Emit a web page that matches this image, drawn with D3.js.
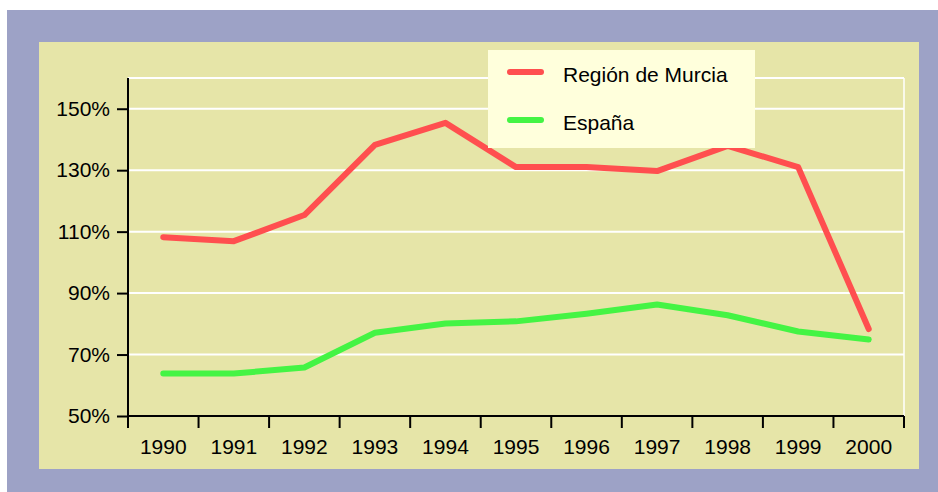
<!DOCTYPE html>
<html>
<head>
<meta charset="utf-8">
<script src="https://cdn.jsdelivr.net/npm/d3@7"></script>
<style>
  body { margin: 0; background: #fff; }
  text { font-family: "Liberation Sans", Arial, sans-serif; fill: #000; }
</style>
</head>
<body>
<svg id="chart" width="938" height="492"></svg>
<script>
// data
const years  = ["1990","1991","1992","1993","1994","1995","1996","1997","1998","1999","2000"];
const murcia = [108.2, 106.9, 115.4, 138.2, 145.4, 131.0, 131.0, 129.7, 137.9, 131.0, 78.3];
const espana = [63.8, 63.8, 65.8, 77.1, 80.1, 80.8, 83.3, 86.3, 82.8, 77.5, 74.9];
const yTicks = [50, 70, 90, 110, 130, 150];
const seriesNames = ["Región de Murcia", "España"];
const seriesColors = ["#ff4f4f", "#44f444"];

const svg = d3.select("#chart");

// frame + panel
svg.append("rect").attr("x", 7).attr("y", 10).attr("width", 931).attr("height", 482).attr("fill", "#9da2c6");
svg.append("rect").attr("x", 39).attr("y", 42).attr("width", 880).attr("height", 427).attr("fill", "#e6e5a8");

const m = { left: 128, right: 904, top: 78, bottom: 416 };

const x = d3.scaleBand().domain(years).range([m.left, m.right]);
const y = d3.scaleLinear().domain([50, 160]).range([m.bottom, m.top]);

// grid
const g = svg.append("g");
g.selectAll("line.grid")
  .data(yTicks.slice(1).concat([160]))
  .enter().append("line")
    .attr("x1", m.left).attr("x2", m.right)
    .attr("y1", d => y(d)).attr("y2", d => y(d))
    .attr("stroke", "#fff").attr("stroke-width", 2);
g.append("line")
  .attr("x1", m.right).attr("x2", m.right)
  .attr("y1", m.top).attr("y2", m.bottom)
  .attr("stroke", "#fff").attr("stroke-width", 1.5);

// lines
const line = d3.line()
  .x((d, i) => x(years[i]) + x.bandwidth() / 2)
  .y(d => y(d));

[murcia, espana].forEach((vals, k) => {
  svg.append("path")
    .datum(vals)
    .attr("d", line)
    .attr("fill", "none")
    .attr("stroke", seriesColors[k])
    .attr("stroke-width", 6)
    .attr("stroke-linecap", "round")
    .attr("stroke-linejoin", "round");
});

// axes
const yAxis = svg.append("g")
  .attr("transform", `translate(${m.left},0)`)
  .call(d3.axisLeft(y).tickValues(yTicks).tickFormat(d => d + "%").tickSize(11).tickPadding(7));
yAxis.select(".domain").attr("d", `M0,${m.top}V${m.bottom}`);

const xAxis = svg.append("g")
  .attr("transform", `translate(0,${m.bottom})`)
  .call(d3.axisBottom(x).tickSize(0).tickPadding(23));
xAxis.select(".domain").attr("d", `M${m.left},0H${m.right}`);

// band boundary ticks
svg.append("g").selectAll("line")
  .data(years.concat(["end"]))
  .enter().append("line")
    .attr("x1", (d, i) => m.left + i * x.bandwidth())
    .attr("x2", (d, i) => m.left + i * x.bandwidth())
    .attr("y1", m.bottom).attr("y2", m.bottom + 12)
    .attr("stroke", "#000").attr("stroke-width", 2);

svg.selectAll(".tick text").attr("font-size", null).attr("font-family", null)
  .style("font-size", "21px");
svg.selectAll("g").attr("font-size", null).attr("font-family", null);
svg.selectAll(".domain, .tick line").attr("stroke", "#000").attr("stroke-width", 2);

// legend
const leg = svg.append("g");
leg.append("rect").attr("x", 488).attr("y", 50).attr("width", 267).attr("height", 98).attr("fill", "#ffffdc");
seriesNames.forEach((name, i) => {
  const cy = 72 + i * 48;
  leg.append("line")
    .attr("x1", 510).attr("x2", 541).attr("y1", cy).attr("y2", cy)
    .attr("stroke", seriesColors[i]).attr("stroke-width", 6).attr("stroke-linecap", "round");
  leg.append("text")
    .attr("x", 563).attr("y", cy + 10)
    .style("font-size", "21px")
    .text(name);
});
</script>
</body>
</html>
